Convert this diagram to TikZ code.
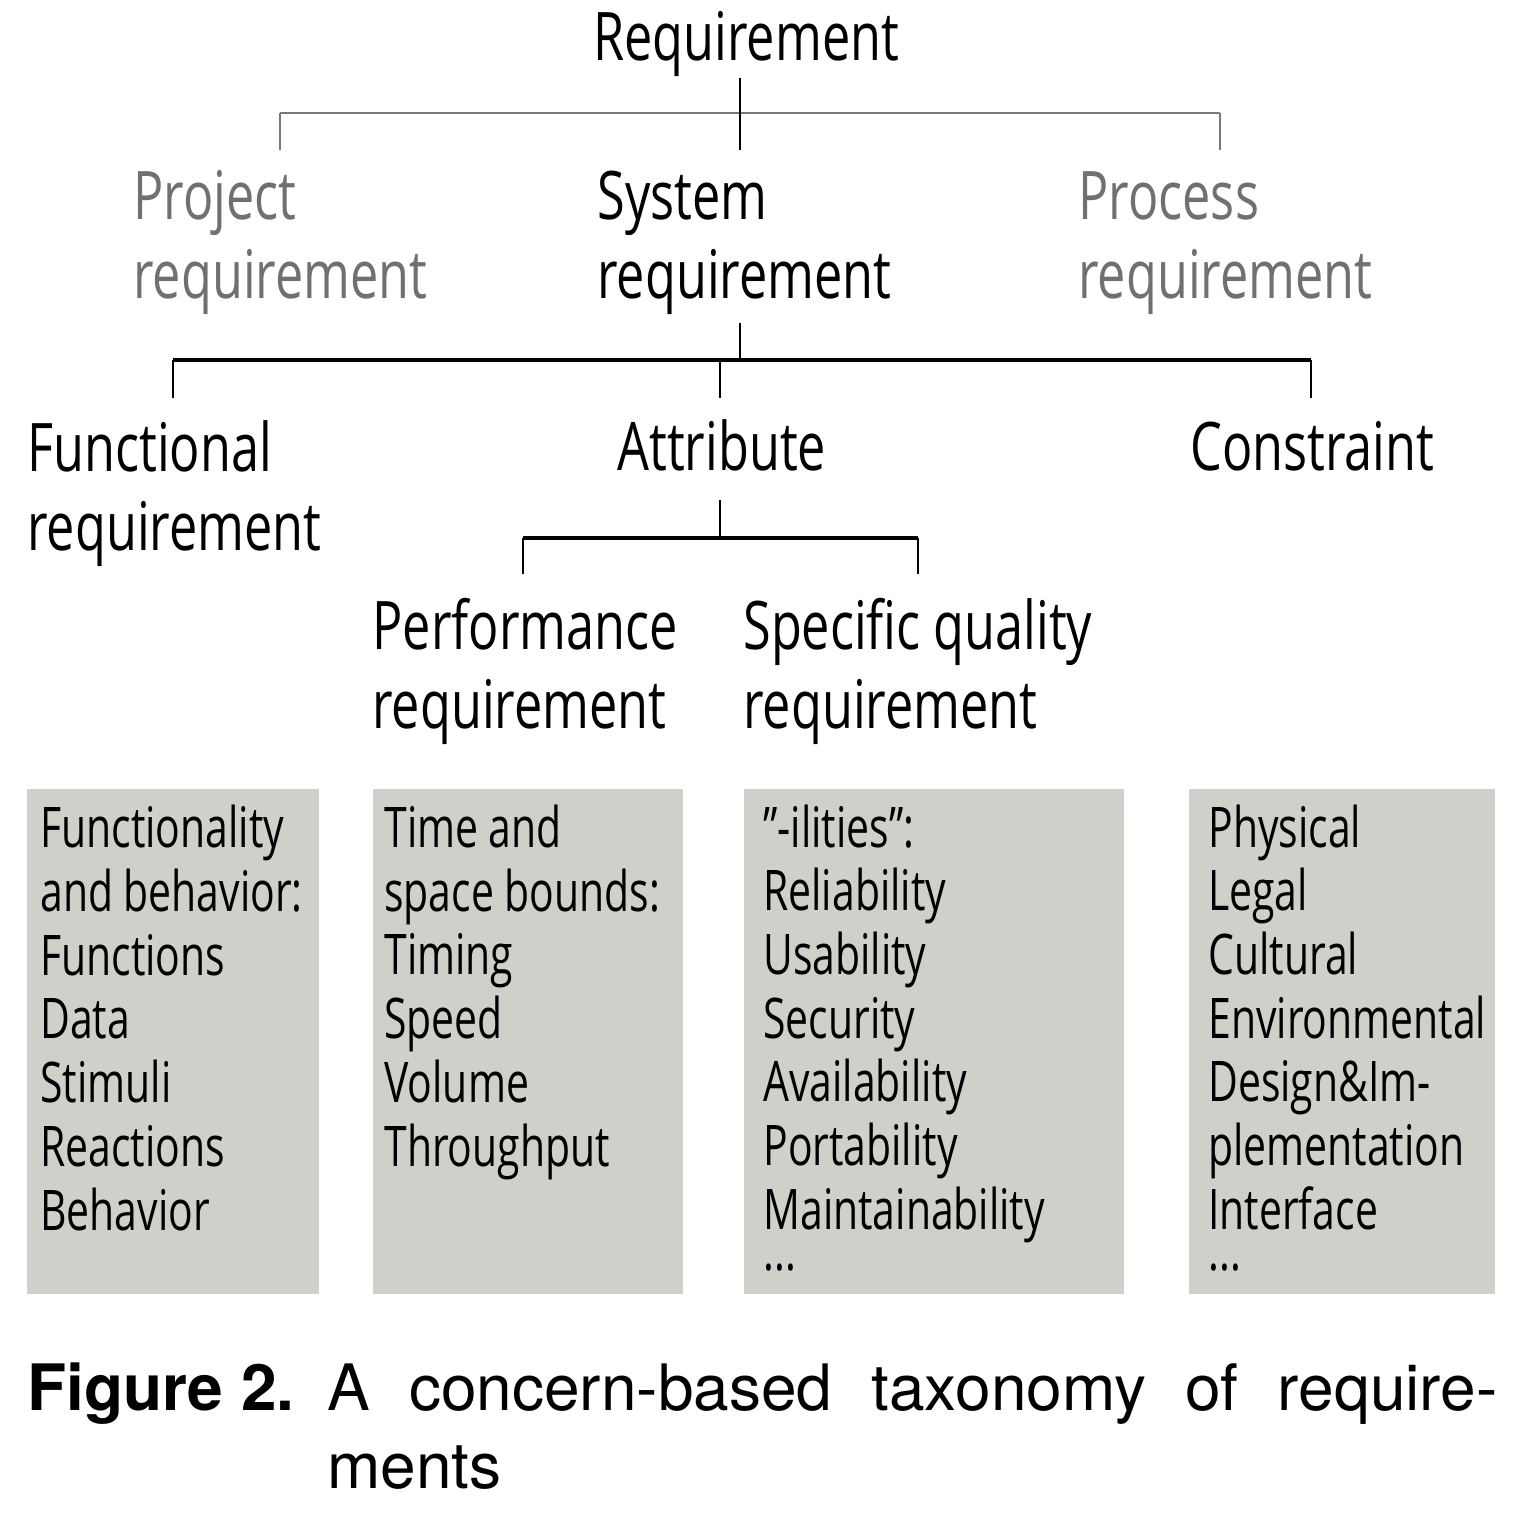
\documentclass[tikz,border=0pt]{standalone}
\usepackage{fontspec}
\setmainfont{Open Sans}[FakeStretch=0.73]
\newfontfamily\lblfont{Open Sans}[FakeStretch=0.752]
\newfontfamily\capfont{TeX Gyre Heros}
\definecolor{boxgray}{RGB}{208,208,203}
\definecolor{txtgray}{RGB}{112,112,112}
\definecolor{linegray}{RGB}{120,120,120}
\begin{document}
\begin{tikzpicture}[x=0.5pt,y=-0.5pt,
  lbl/.style={inner sep=0pt, anchor=base west, align=left, font=\lblfont\fontsize{33.5}{39.5}\selectfont},
  boxtxt/.style={inner sep=0pt, anchor=base west, align=left, font=\fontsize{28}{31.85}\selectfont},
  catbox/.style={fill=boxgray, draw=none, inner sep=0pt, anchor=north west, minimum height=252.5pt},
  vline/.style={line width=1pt},
  hline/.style={line width=1.6pt},
  capstyle/.style={inner sep=0pt, anchor=base west, font=\capfont\fontsize{32}{39}\selectfont},
]
\useasboundingbox (0,0) rectangle (1534,1522);

% boxes
\node[catbox, minimum width=146pt] (b1) at (27,789) {};
\node[catbox, minimum width=155pt] (b2) at (373,789) {};
\node[catbox, minimum width=190pt] (b3) at (744,789) {};
\node[catbox, minimum width=153pt] (b4) at (1189,789) {};

% labels (multi-line nodes are anchored at the baseline of their last line)
\node[lbl] (req) at (593,60) {Requirement};
\node[lbl, text=txtgray] (proj) at (133,298) {Project\\requirement};
\node[lbl] (sys) at (597,298) {System\\requirement};
\node[lbl, text=txtgray] (proc) at (1078,298) {Process\\requirement};
\node[lbl] (func) at (27,550) {Functional\\requirement};
\node[lbl] (attr) at (617,470) {Attribute};
\node[lbl] (cons) at (1190,470) {Constraint};
\node[lbl] (perf) at (372,728) {Performance\\requirement};
\node[lbl] (spec) at (743,728) {Specific quality\\requirement};

% box texts
\node[boxtxt] (t1) at (40,1230) {Functionality\\and behavior:\\Functions\\Data\\Stimuli\\Reactions\\Behavior};
\node[boxtxt] (t2) at (384,1166) {Time and\\space bounds:\\Timing\\Speed\\Volume\\Throughput};
\node[boxtxt] (t3) at (763,1270) {”-ilities”:\\Reliability\\Usability\\Security\\Availability\\Portability\\Maintainability\\[-11.5pt]...};
\node[boxtxt] (t4) at (1208,1270) {Physical\\Legal\\Cultural\\Environmental\\Design\&Im-\\plementation\\Interface\\[-11.5pt]...};

% tree coordinates
\coordinate (r0) at (740,78);
\coordinate (r1) at (740,150);
\coordinate (pj) at (280,150);
\coordinate (pc) at (1220,150);
\coordinate (rh) at (740,113);
\coordinate (s0) at (740,323);
\coordinate (s1) at (740,360);
\coordinate (fu) at (173,398);
\coordinate (at) at (720,398);
\coordinate (co) at (1311,398);
\coordinate (a0) at (720,500);
\coordinate (a1) at (720,538);
\coordinate (pe) at (523,574);
\coordinate (sp) at (918,574);

% top bracket (gray)
\draw[hline, linegray, line width=1.3pt] (pj |- rh) -- (pc |- rh);
\draw[vline, linegray] (pj) -- (pj |- rh);
\draw[vline, linegray] (pc) -- (pc |- rh);
\draw[vline] (r0) -- (r1);

% second bracket
\draw[vline] (s0) -- (s1);
\draw[hline] (fu |- s1) -- (co |- s1);
\draw[vline] (fu |- s1) -- (fu);
\draw[vline] (at |- s1) -- (at);
\draw[vline] (co |- s1) -- (co);

% attribute bracket
\draw[vline] (a0) -- (a1);
\draw[hline] (pe |- a1) -- (sp |- a1);
\draw[vline] (pe |- a1) -- (pe);
\draw[vline] (sp |- a1) -- (sp);

% caption (text-width node: anchored at its first baseline)
\node[capstyle, font=\capfont\bfseries\fontsize{32}{39}\selectfont] (fig) at (27,1410) {Figure 2.};
\node[capstyle, text width=585pt, align=justify] (cap) at (327,1410) {A concern-based taxonomy of require-\linebreak ments};
\end{tikzpicture}
\end{document}
